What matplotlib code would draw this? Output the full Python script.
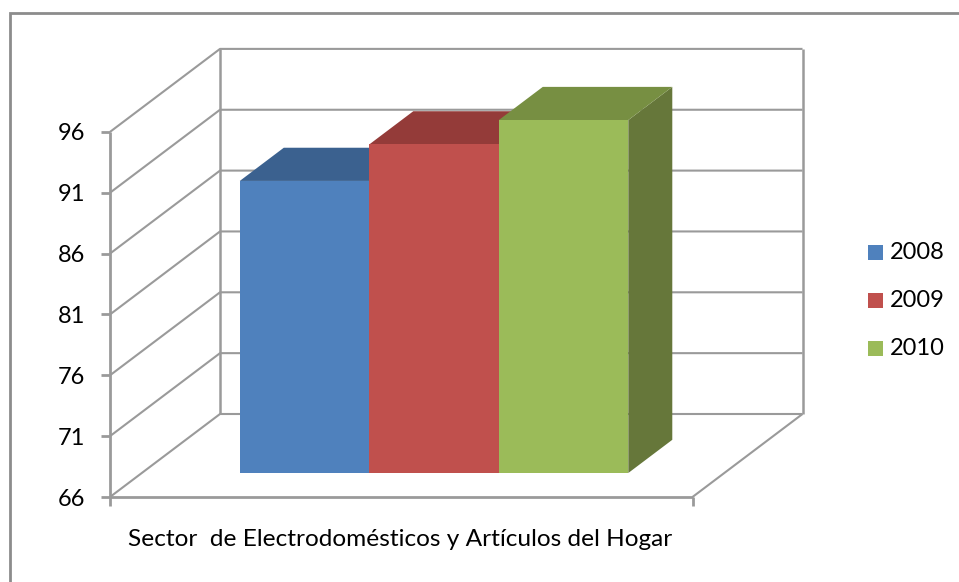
import matplotlib
matplotlib.use("Agg")
import matplotlib.pyplot as plt
from matplotlib.patches import Polygon, Rectangle

plt.rcParams['font.family'] = ['Lato', 'DejaVu Sans']

years = ['2008', '2009', '2010']
values = [90, 93, 95]
front_colors = ['#4F81BD', '#C0504D', '#9BBB59']
top_colors = ['#3B618F', '#943B39', '#778F42']
side_colors = ['#2F4D71', '#763130', '#66773A']
y_ticks = [66, 71, 76, 81, 86, 91, 96]
category = 'Sector  de Electrodomésticos y Artículos del Hogar'

W, H = 959, 582
X0, X1 = 110.0, 692.5      # front plane, pixels
Y0, PX_PER_UNIT = 497.0, 12.17
DX, DY = 110.0, 83.0       # full depth shift, pixels
GRID = '#9A9A9A'

fig = plt.figure(figsize=(W / 100, H / 100), dpi=100, facecolor='white')
ax = fig.add_axes([0, 0, 1, 1])
ax.set_xlim(-X0 / (X1 - X0), (W - X0) / (X1 - X0))
ax.set_ylim(66 - (H - Y0) / PX_PER_UNIT, 66 + Y0 / PX_PER_UNIT)
ax.axis('off')

dx = DX / (X1 - X0)
dy = DY / PX_PER_UNIT
px2x = 1 / (X1 - X0)
px2y = 1 / PX_PER_UNIT


def proj(x, v, d):
    return (x + d * dx, v + d * dy)


def line(pts, lw=1.5, color=GRID, z=1):
    xs, ys = zip(*pts)
    ax.plot(xs, ys, color=color, lw=lw, solid_capstyle='butt', zorder=z)


# walls and gridlines
for v in y_ticks:
    line([proj(0, v, 0), proj(0, v, 1), proj(1, v, 1)])
line([proj(0, 66, 0), proj(0, 96, 0)], lw=2)
line([proj(0, 66, 1), proj(0, 96, 1)], lw=1.8)
line([proj(1, 66, 1), proj(1, 96, 1)], lw=1.8)
line([proj(0, 66, 0), proj(1, 66, 0)], lw=2)
line([proj(1, 66, 0), proj(1, 66, 1)])

# axis ticks and labels
tick_dx = 9 * px2x
tick_dy = 9 * px2y
for v in y_ticks:
    line([(-tick_dx, v), (0, v)], lw=2)
    ax.text(-16 * px2x - tick_dx, v - 2 * px2y, str(v), ha='right', va='center',
            fontsize=17, color='black')
line([(0, 66), (0, 66 - tick_dy)], lw=2)
line([(1, 66), (1, 66 - tick_dy)], lw=2)
ax.text((400.5 - X0) * px2x, 66 + (Y0 - 540) * px2y, category, ha='center', va='center',
        fontsize=17.6, color='black')

# bars
BAR_X0 = (240 - 32 - X0) * px2x
BAR_W = 129.5 * px2x
D0, D1 = 0.289, 0.689
for i, (val, fc, tc, sc) in enumerate(zip(values, front_colors, top_colors, side_colors)):
    xa = BAR_X0 + i * BAR_W
    xb = xa + BAR_W
    front = [proj(xa, 66, D0), proj(xb, 66, D0), proj(xb, val, D0), proj(xa, val, D0)]
    top = [proj(xa, val, D0), proj(xb, val, D0), proj(xb, val, D1), proj(xa, val, D1)]
    side = [proj(xb, 66, D0), proj(xb, 66, D1), proj(xb, val, D1), proj(xb, val, D0)]
    z = 3 + i
    ax.add_patch(Polygon(side, closed=True, fc=sc, ec='none', zorder=z))
    ax.add_patch(Polygon(top, closed=True, fc=tc, ec='none', zorder=z))
    ax.add_patch(Polygon(front, closed=True, fc=fc, ec='none', zorder=z + 0.5))

# legend
for i, (yr, fc) in enumerate(zip(years, front_colors)):
    cy = 66 + (Y0 - (252.5 + 48 * i)) * px2y
    ax.add_patch(Rectangle(((868 - X0) * px2x, cy - 7.5 * px2y), 15 * px2x, 15 * px2y,
                           fc=fc, ec='none', zorder=6))
    ax.text((890 - X0) * px2x, cy, yr, ha='left', va='center', fontsize=17, color='black')

# chart border
ax.plot([(10 - X0) * px2x, (10 - X0) * px2x, (W - X0) * px2x],
        [66 + (Y0 - H) * px2y, 66 + (Y0 - 13) * px2y, 66 + (Y0 - 13) * px2y],
        color='#8C8C8C', lw=2, zorder=1, solid_joinstyle='miter')

fig.savefig('out.png', dpi=100, facecolor='white')
